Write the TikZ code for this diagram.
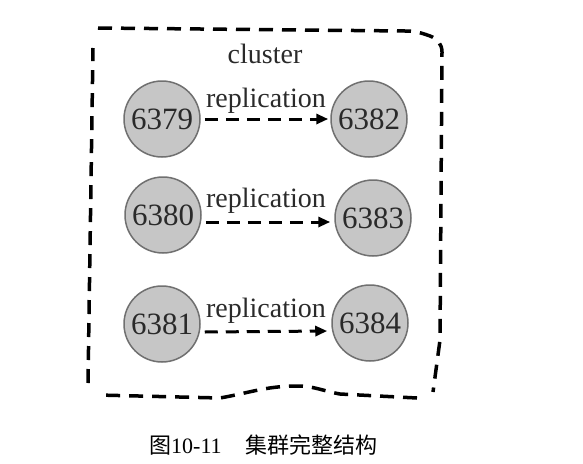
\documentclass[tikz,border=0pt]{standalone}
\usepackage{fontspec}
\setmainfont{Liberation Serif}
\newfontfamily\cjk{Noto Sans CJK SC}
\usetikzlibrary{arrows.meta,calc}
\definecolor{nodefill}{HTML}{C6C6C6}
\definecolor{nodeline}{HTML}{707070}
\definecolor{txt}{HTML}{2A2A2A}
\tikzset{
  port/.style={circle,fill=nodefill,draw=nodeline,line width=1.5pt,minimum size=76pt,inner sep=0pt,
    text=txt,font=\fontsize{31}{31}\selectfont},
  repl/.style={line width=3pt,dash pattern=on 13pt off 8pt,
    -{Triangle[length=12pt,width=10pt]},shorten >=1pt},
  repllabel/.style={anchor=base,text=txt,font=\fontsize{28}{28}\selectfont,inner sep=0pt},
  border/.style={line width=3.5pt,dash pattern=on 14pt off 9pt,line cap=butt},
}
\begin{document}
\begin{tikzpicture}[x=1pt,y=-1pt]
\useasboundingbox (0,0) rectangle (583,463);
% cluster border
\draw[border] (98,28) -- (405,31) to[out=0,in=160] (430,36) to[out=-20,in=90] (442,52)
  -- (440,340) -- (433,392);
\draw[border] (417,398) -- (340,394) to[out=170,in=0] (297,386) to[out=180,in=10] (220,398) -- (98,395);
\draw[border] (88,383) -- (93,48);
\node[repllabel] (cl) at (265,63) {cluster};
% nodes
\node[port] (a1) at (162,119) {6379};
\node[port] (b1) at (369,119) {6382};
\node[port] (a2) at (163,215) {6380};
\node[port] (b2) at (373,218) {6383};
\node[port] (a3) at (162,324) {6381};
\node[port] (b3) at (370,323) {6384};
% arrows
\draw[repl] ($(a1.east)+(4,0)$) -- ($(b1.west)+(-1,0)$);
\draw[repl] ($(a2.east)+(4,7)$) -- ($(b2.west)+(-3,4)$);
\draw[repl] ($(a3.east)+(4,8)$) -- ($(b3.west)+(-3,8)$);
\node[repllabel] (l1) at (266,107) {replication};
\node[repllabel] (l2) at (266,207) {replication};
\node[repllabel] (l3) at (266,317) {replication};
% caption
\node[anchor=base west,inner sep=0pt,font=\fontsize{22}{22}\selectfont] (cap1) at (149,453) {{\cjk 图}10-11};
\node[anchor=base west,inner sep=0pt,font=\fontsize{22}{22}\cjk] (cap2) at (245,453) {集群完整结构};
\end{tikzpicture}
\end{document}
